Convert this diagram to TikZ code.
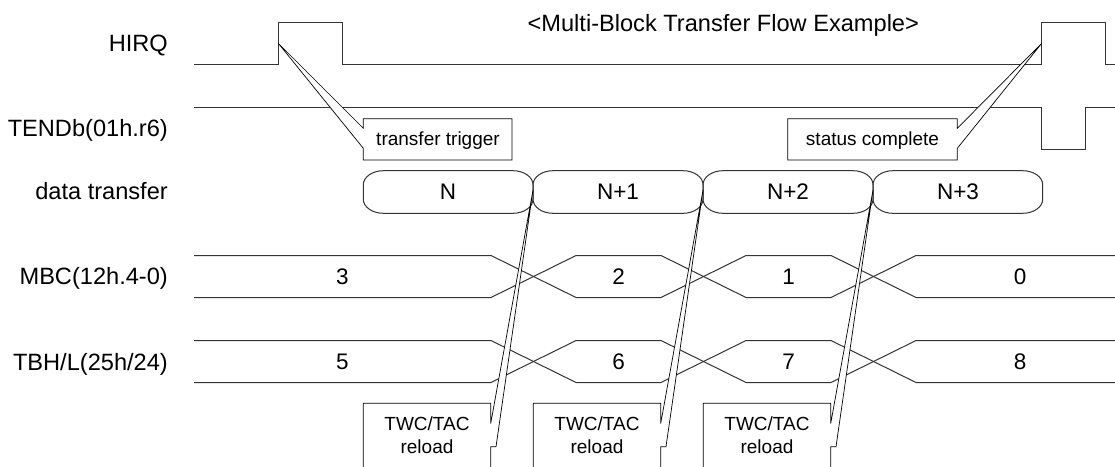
\documentclass[tikz,border=0pt]{standalone}
\usepackage{fontspec}
\setmainfont{Liberation Sans}
\newcommand{\pillshape}[4]{% left, right, top, bottom
  \draw[sig] ({#1+20},#3) -- ({#2-20},#3)
    .. controls ({#2-8.95},#3) and (#2,{#3+6.4}) .. (#2,{#3+14})
    -- (#2,{#4-14})
    .. controls (#2,{#4-6.4}) and ({#2-8.95},#4) .. ({#2-20},#4)
    -- ({#1+20},#4)
    .. controls ({#1+8.95},#4) and (#1,{#4-6.4}) .. (#1,{#4-14})
    -- (#1,{#3+14})
    .. controls (#1,{#3+6.4}) and ({#1+8.95},#3) .. cycle;}
\begin{document}
\begin{tikzpicture}[x=1pt,y=-1pt,
  sig/.style={line width=1pt, draw=black!80, line join=miter},
  callout/.style={line width=0.7pt, draw=black, fill=white},
  lab/.style={font=\fontsize{23.6}{28}\selectfont, anchor=base east, inner sep=0pt},
  ttl/.style={font=\fontsize{23.6}{28}\selectfont, anchor=base, inner sep=0pt},
  val/.style={font=\fontsize{22.5}{26}\selectfont, anchor=base, inner sep=0pt},
  ctext/.style={font=\fontsize{19}{23}\selectfont, anchor=base, inner sep=0pt}]
\useasboundingbox (0,0) rectangle (1115,466);

% title
\node[ttl] (title) at (723.3,31.7) {<Multi-Block Transfer Flow Example>};

% signal labels
\node[lab] (lhirq) at (168,51.7) {HIRQ};
\node[lab] (ltend) at (168,136.2) {TENDb(01h.r6)};
\node[lab] (ldata) at (168,199.3) {data transfer};
\node[lab] (lmbc)  at (168,284.5) {MBC(12h.4-0)};
\node[lab] (ltbh)  at (168,370) {TBH/L(25h/24)};

% HIRQ
\draw[sig] (194,64.3) -- (278.3,64.3) -- (278.3,22.5) -- (342.3,22.5) -- (342.3,64.3)
  -- (1041.7,64.3) -- (1041.7,22.5) -- (1105.7,22.5) -- (1105.7,64.3) -- (1115,64.3);
% TENDb
\draw[sig] (194,107.5) -- (1041.7,107.5) -- (1041.7,149.3) -- (1085,149.3) -- (1085,107.5) -- (1115,107.5);

% MBC bus
\draw[sig] (194,255.5) -- (491,255.5) -- (576,297.5) -- (661,297.5) -- (746,255.5) -- (831,255.5) -- (916,297.5) -- (1115,297.5);
\draw[sig] (194,297.5) -- (491,297.5) -- (576,255.5) -- (661,255.5) -- (746,297.5) -- (831,297.5) -- (916,255.5) -- (1115,255.5);
% TBH/L bus
\draw[sig] (194,340.5) -- (491,340.5) -- (576,382.5) -- (661,382.5) -- (746,340.5) -- (831,340.5) -- (916,382.5) -- (1115,382.5);
\draw[sig] (194,382.5) -- (491,382.5) -- (576,340.5) -- (661,340.5) -- (746,382.5) -- (831,382.5) -- (916,340.5) -- (1115,340.5);

% bus values
\node[val] (m3) at (342.5,284.2) {3};
\node[val] (m2) at (618.5,284.2) {2};
\node[val] (m1) at (788.5,284.2) {1};
\node[val] (m0) at (1020,284.2) {0};
\node[val] (t5) at (342.5,369.7) {5};
\node[val] (t6) at (618.5,369.7) {6};
\node[val] (t7) at (788.5,369.7) {7};
\node[val] (t8) at (1020,369.7) {8};

% data transfer pills
\pillshape{363.3}{533}{170.7}{213.3}
\pillshape{533}{703}{170.7}{213.3}
\pillshape{703}{873}{170.7}{213.3}
\pillshape{873}{1042.7}{170.7}{213.3}
\node[val] (p0) at (448,199.3) {N};
\node[val] (p1) at (618,199.3) {N+1};
\node[val] (p2) at (788,199.3) {N+2};
\node[val] (p3) at (958,199.3) {N+3};

% callout tips
\coordinate (trigtip) at (278.3,43.3);
\coordinate (stattip) at (1041.7,43.3);
\coordinate (j1) at (533,190);
\coordinate (j2) at (703,190);
\coordinate (j3) at (873,190);

% transfer trigger callout
\draw[callout] (363.3,128.3) -- (363.3,118.7) -- (512,118.7) -- (512,160) -- (363.3,160) -- (363.3,148.3) -- (trigtip) -- cycle;
\node[ctext] (ttrig) at (438,145) {transfer trigger};
% status complete callout
\draw[callout] (787.7,118.7) -- (957.3,118.7) -- (957.3,128.3) -- (stattip) -- (957.3,148.3) -- (957.3,160) -- (787.7,160) -- cycle;
\node[ctext] (tstat) at (872.5,145) {status complete};

% TWC/TAC reload callouts
\draw[callout] (363.3,467) -- (363.3,403.3) -- (490.7,403.3) -- (490.7,423.5) -- (j1) -- (496,446.7) -- (490.7,446.7) -- (490.7,467);
\draw[callout] (533.3,467) -- (533.3,403.3) -- (660.7,403.3) -- (660.7,423.5) -- (j2) -- (666,446.7) -- (660.7,446.7) -- (660.7,467);
\draw[callout] (703.3,467) -- (703.3,403.3) -- (830.7,403.3) -- (830.7,423.5) -- (j3) -- (836,446.7) -- (830.7,446.7) -- (830.7,467);
\node[ctext] (r1a) at (427,430.7) {TWC/TAC};
\node[ctext] (r1b) at (427,453.3) {reload};
\node[ctext] (r2a) at (597,430.7) {TWC/TAC};
\node[ctext] (r2b) at (597,453.3) {reload};
\node[ctext] (r3a) at (767,430.7) {TWC/TAC};
\node[ctext] (r3b) at (767,453.3) {reload};
\end{tikzpicture}
\end{document}
